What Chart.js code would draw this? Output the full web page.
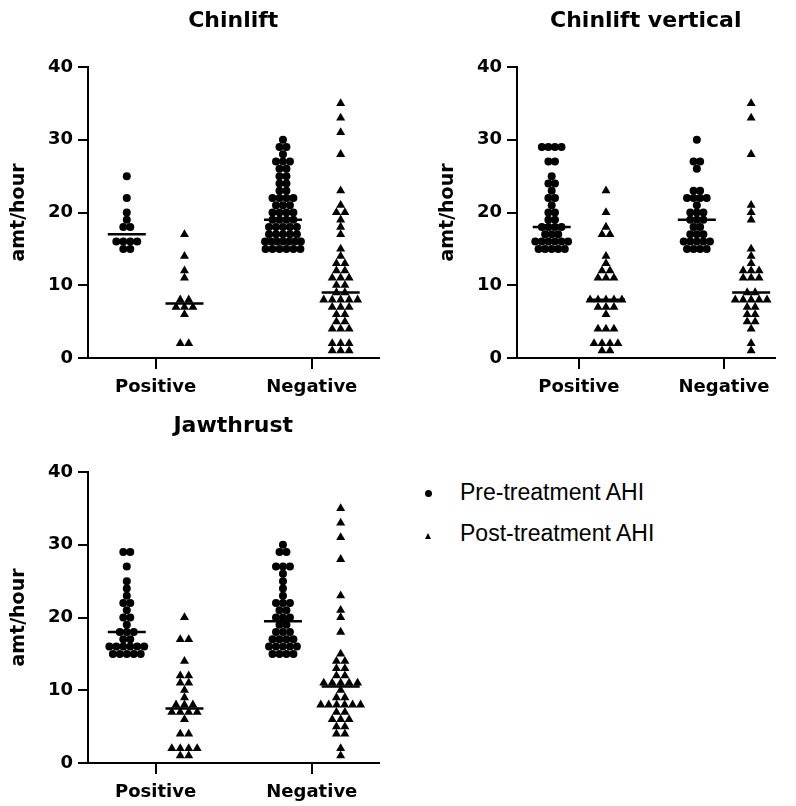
<!DOCTYPE html>
<html>
<head>
<meta charset="utf-8">
<script src="https://cdn.jsdelivr.net/npm/chart.js@4.4.1/dist/chart.umd.min.js"></script>
<style>
  body { margin: 0; background: #fff; width: 796px; height: 806px; position: relative; overflow: hidden; }
  canvas { position: absolute; }
  .leg { position: absolute; left: 460px; font-family: "Liberation Sans", Arial, sans-serif; font-size: 23px; line-height: 26px; color: #000; white-space: nowrap; }
  .dot { position: absolute; left: 425px; width: 7px; height: 7px; border-radius: 50%; background: #000; }
  .tri { position: absolute; left: 425px; width: 0; height: 0; border-left: 3.5px solid transparent; border-right: 3.5px solid transparent; border-bottom: 6px solid #000; }
</style>
</head>
<body>
<canvas id="c1" width="400" height="400" style="left:0;top:0"></canvas>
<canvas id="c2" width="367" height="400" style="left:429px;top:0"></canvas>
<canvas id="c3" width="400" height="400" style="left:0;top:405px"></canvas>

<span class="dot" style="top:490px"></span>
<div class="leg" style="top:479px">Pre-treatment AHI</div>
<span class="tri" style="top:533px"></span>
<div class="leg" style="top:520px">Post-treatment AHI</div>

<script>
// categories on the x axis
var groups = ["Positive", "Negative"];
var yTicks = [0, 10, 20, 30, 40];

// Chinlift (amt/hour)
var chinPrePos  = [25, 22, 20, 19, 18, 18, 16, 16, 16, 16, 15, 15];
var chinPostPos = [17, 14, 12, 11, 8, 8, 7, 7, 7, 6, 2, 2];
var chinPreNeg  = [30, 29, 29, 28, 27, 27, 27, 26, 26, 25, 25, 24, 24, 23, 23, 22, 22, 22, 22,
                   21, 21, 21, 20, 20, 20, 20, 19, 19, 19, 19, 18, 18, 18, 18, 18, 17, 17, 17, 17, 17,
                   16, 16, 16, 16, 16, 16, 16, 15, 15, 15, 15, 15, 15];
var chinPostNeg = [35, 33, 31, 28, 23, 21, 20, 20, 19, 18, 17, 15, 14, 13, 13, 12, 12, 11, 11, 11,
                   10, 10, 9, 9, 8, 8, 8, 8, 8, 7, 7, 7, 6, 6, 5, 5, 4, 4, 4, 2, 2, 2, 1, 1, 1];

// Chinlift vertical
var vertPrePos  = [29, 29, 29, 29, 27, 27, 25, 24, 24, 23, 22, 22, 21, 20, 20, 19, 19, 18, 18, 18, 18,
                   17, 17, 17, 16, 16, 16, 16, 16, 16, 15, 15, 15, 15, 15];
var vertPostPos = [23, 20, 18, 17, 17, 14, 13, 12, 12, 11, 11, 11, 8, 8, 8, 8, 8, 7, 7, 7, 6,
                   4, 4, 4, 2, 2, 2, 2, 1, 1];
var vertPreNeg  = [30, 27, 27, 26, 23, 23, 22, 22, 22, 22, 21, 20, 20, 20, 19, 19, 19, 18, 18,
                   17, 17, 17, 16, 16, 16, 16, 16, 15, 15, 15, 15];
var vertPostNeg = [35, 33, 28, 21, 20, 19, 15, 14, 13, 12, 12, 12, 11, 11, 11, 9, 9, 8, 8, 8, 8, 8,
                   7, 7, 6, 6, 5, 5, 4, 2, 1];

// Jawthrust
var jawPrePos  = [29, 29, 27, 25, 24, 23, 22, 22, 21, 20, 20, 19, 18, 18, 18, 17, 17,
                  16, 16, 16, 16, 16, 16, 15, 15, 15, 15, 15];
var jawPostPos = [20, 17, 17, 14, 12, 12, 11, 11, 10, 9, 8, 8, 8, 7, 7, 7, 7, 6, 4, 4, 2, 2, 2, 2, 1, 1];
var jawPreNeg  = [30, 29, 29, 27, 27, 27, 26, 25, 24, 23, 22, 22, 22, 21, 21, 20, 20, 20, 19, 19,
                  18, 18, 18, 17, 17, 17, 17, 16, 16, 16, 16, 16, 15, 15, 15, 15];
var jawPostNeg = [35, 33, 31, 28, 23, 21, 20, 18, 15, 14, 14, 13, 13, 12, 12, 11, 11, 11, 11, 11,
                  10, 9, 9, 8, 8, 8, 8, 8, 8, 7, 7, 6, 6, 6, 5, 5, 4, 4, 2, 1];

var BOLD = '"DejaVu Sans", Verdana, sans-serif';

function median(arr) {
  var s = arr.slice().sort(function (a, b) { return a - b; });
  var m = Math.floor(s.length / 2);
  return s.length % 2 ? s[m] : (s[m - 1] + s[m]) / 2;
}

// Prism-style column scatter: equal values share a row, centred on the column
function swarm(values, centerPx, spacing, maxWidth) {
  var rows = {};
  values.forEach(function (v) { (rows[v] = rows[v] || []).push(v); });
  var pts = [];
  Object.keys(rows).forEach(function (k) {
    var n = rows[k].length;
    var step = n > 1 ? Math.min(spacing, maxWidth / (n - 1)) : 0;
    for (var i = 0; i < n; i++) pts.push({ px: centerPx + (i - (n - 1) / 2) * step, y: +k });
  });
  return pts;
}

function makePanel(id, title, pre, post, xMin, xMax, padRight) {
  var axisGrid = { display: true, drawOnChartArea: false, drawTicks: true, lineWidth: 2, color: "#000" };
  var chart = new Chart(document.getElementById(id), {
    type: "scatter",
    data: {
      datasets: [
        { label: "median", data: [], pointStyle: "line", pointRadius: 19, borderWidth: 2.5,
          borderColor: "#000", backgroundColor: "#000", order: 0 },
        { label: "Pre-treatment AHI", data: [], pointStyle: "circle", pointRadius: 4,
          backgroundColor: "#000", borderColor: "#000", borderWidth: 0, order: 1 },
        { label: "Post-treatment AHI", data: [], pointStyle: "triangle", pointRadius: 5.2,
          backgroundColor: "#000", borderColor: "#000", borderWidth: 0, order: 2 },
      ],
    },
    options: {
      responsive: false,
      animation: false,
      events: [],
      layout: { padding: { left: 0, right: padRight, top: 0, bottom: 0 } },
      plugins: {
        legend: { display: false },
        tooltip: { enabled: false },
        title: {
          display: true, text: title, fullSize: false, color: "#000",
          font: { family: BOLD, size: 22, weight: "bold" },
          padding: { top: 8, bottom: 32.6 },
        },
      },
      scales: {
        x: {
          type: "linear", min: xMin, max: xMax,
          afterBuildTicks: function (s) { s.ticks = [{ value: 1 }, { value: 2 }]; },
          afterFit: function (s) { s.height = 42; },
          ticks: {
            autoSkip: false, maxRotation: 0, padding: 8, color: "#000",
            font: { family: BOLD, size: 18, weight: "bold" },
            callback: function (v) { return groups[v - 1]; },
          },
          grid: Object.assign({ tickLength: 11 }, axisGrid),
          border: { display: true, width: 2, color: "#000" },
        },
        y: {
          min: yTicks[0], max: yTicks[yTicks.length - 1],
          afterBuildTicks: function (s) { s.ticks = yTicks.map(function (v) { return { value: v }; }); },
          afterFit: function (s) { s.width = 88; },
          ticks: { padding: 5, color: "#000", font: { family: BOLD, size: 18, weight: "bold" } },
          grid: Object.assign({ tickLength: 10 }, axisGrid),
          border: { display: true, width: 2, color: "#000" },
          title: {
            display: true, text: "amt/hour", color: "#000",
            font: { family: BOLD, size: 19, weight: "bold" },
            padding: { top: 8, bottom: 0 },
          },
        },
      },
    },
  });

  // place the columns in pixel space, then hand values back to the x scale
  var xs = chart.scales.x;
  var preD = [], postD = [], medD = [];
  [0, 1].forEach(function (g) {
    var c = xs.getPixelForValue(g + 1);
    swarm(pre[g], c - 29, 7, 36).forEach(function (p) { preD.push({ x: xs.getValueForPixel(p.px), y: p.y }); });
    swarm(post[g], c + 29, 8.5, 40).forEach(function (p) { postD.push({ x: xs.getValueForPixel(p.px), y: p.y }); });
    medD.push({ x: xs.getValueForPixel(c - 29), y: median(pre[g]) });
    medD.push({ x: xs.getValueForPixel(c + 29), y: median(post[g]) });
  });
  chart.data.datasets[0].data = medD;
  chart.data.datasets[1].data = preD;
  chart.data.datasets[2].data = postD;
  chart.update();
  return chart;
}

makePanel("c1", "Chinlift", [chinPrePos, chinPreNeg], [chinPostPos, chinPostNeg], 0.567, 2.427, 20);
makePanel("c2", "Chinlift vertical", [vertPrePos, vertPreNeg], [vertPostPos, vertPostNeg], 0.574, 2.348, 4);
makePanel("c3", "Jawthrust", [jawPrePos, jawPreNeg], [jawPostPos, jawPostNeg], 0.567, 2.427, 20);
</script>
</body>
</html>
